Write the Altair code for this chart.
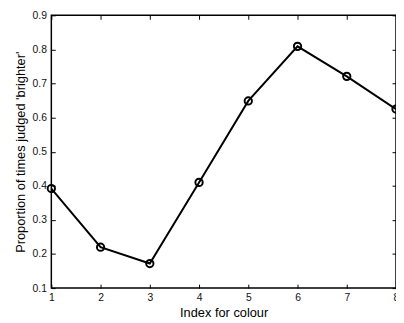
import altair as alt
import pandas as pd

idx = [1, 2, 3, 4, 5, 6, 7, 8]
prop = [0.392, 0.220, 0.172, 0.410, 0.649, 0.809, 0.721, 0.625]
x_ticks = [1, 2, 3, 4, 5, 6, 7, 8]
y_ticks = [0.1, 0.2, 0.3, 0.4, 0.5, 0.6, 0.7, 0.8, 0.9]

df = pd.DataFrame({"idx": idx, "prop": prop})
FONT = "Liberation Sans"

xscale = alt.Scale(domain=[1, 8], nice=False, zero=False)
yscale = alt.Scale(domain=[0.1, 0.9], nice=False, zero=False)

common = dict(
    grid=False, domain=False, ticks=True, tickSize=4, offset=-4,
    tickColor="black", tickWidth=1,
    labelFont=FONT, labelFontSize=10.5, labelColor="#111111", labelFlush=False,
    labelOverlap=False,
    titleFont=FONT, titleFontSize=13, titleColor="black", titleFontWeight="normal",
)

base = alt.Chart(df)

line = base.mark_line(color="black", strokeWidth=2).encode(
    x=alt.X("idx:Q", scale=xscale,
            axis=alt.Axis(values=x_ticks, format="d", title="Index for colour",
                          labelPadding=5, titlePadding=3, **common)),
    y=alt.Y("prop:Q", scale=yscale,
            axis=alt.Axis(values=y_ticks, format=".1f",
                          title="Proportion of times judged 'brighter'",
                          labelPadding=5, titlePadding=5, **common)),
)

pts = base.mark_point(shape="circle", filled=False, color="black", size=55,
                      strokeWidth=2, opacity=1).encode(
    x=alt.X("idx:Q", scale=xscale,
            axis=alt.Axis(orient="top", values=x_ticks, labels=False, title="", **common)),
    y=alt.Y("prop:Q", scale=yscale,
            axis=alt.Axis(orient="right", values=y_ticks, labels=False, title="", **common)),
)

chart = (
    alt.layer(line, pts)
    .resolve_axis(x="independent", y="independent")
    .properties(
        width=350, height=277,
        autosize=alt.AutoSizeParams(type="none"),
        padding={"left": 44, "top": 5, "right": 0, "bottom": 33},
        background="white",
    )
    .configure_view(stroke="black", strokeWidth=1.5)
)

chart.save("out.html", embed_options={"renderer": "svg", "actions": False})
